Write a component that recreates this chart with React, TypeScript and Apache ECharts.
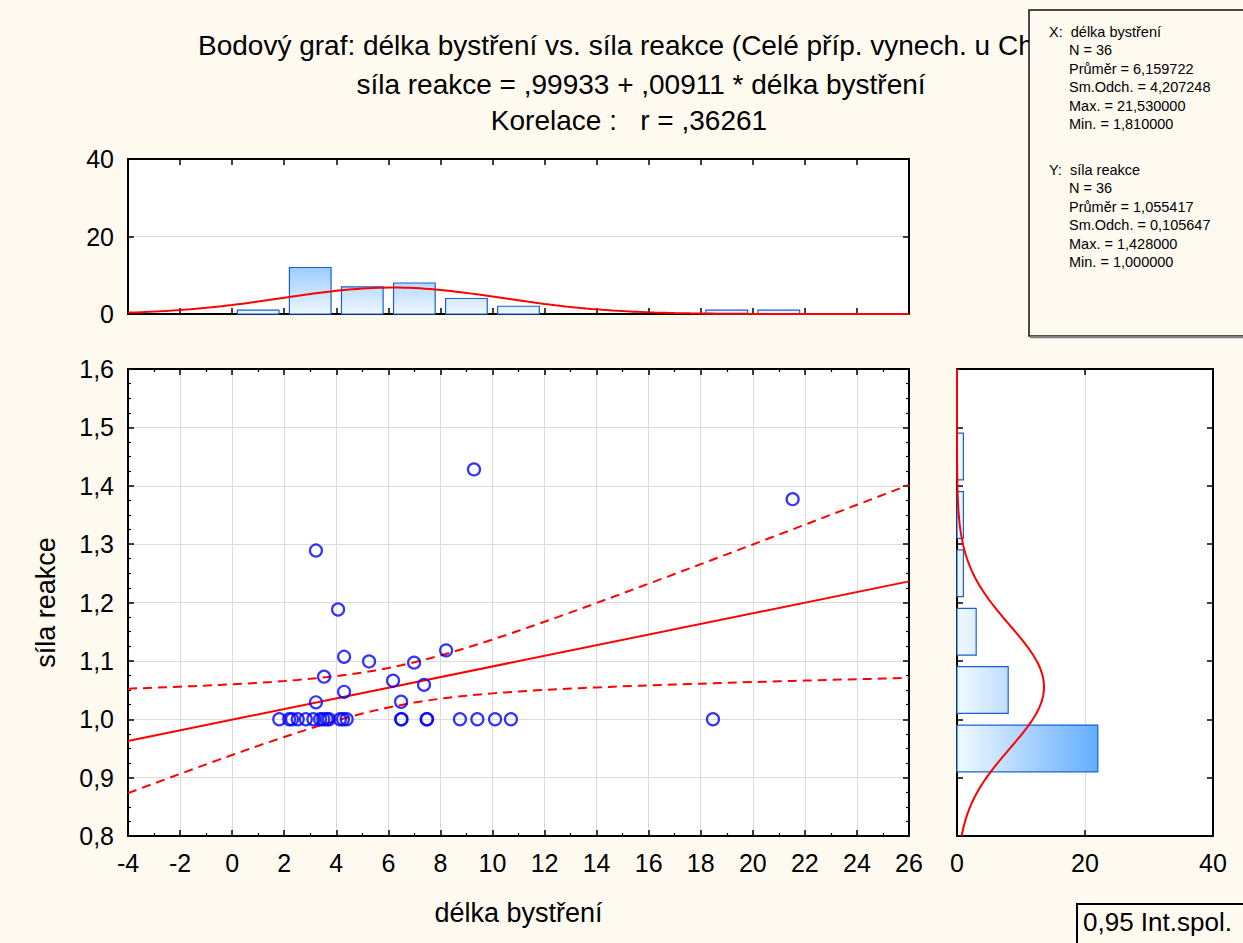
import React, { useEffect, useRef } from "react";
import * as echarts from "echarts";

// Observations: délka bystření (x) and síla reakce (y)
const pointX = [
  1.81, 2.19, 2.3, 2.52, 2.83, 3.12, 3.38, 3.5, 3.63, 3.72,
  4.14, 4.26, 4.4, 6.49, 6.51, 7.47, 7.49, 8.75, 9.42, 10.1, 10.71, 18.47,
  9.29, 21.53, 3.22, 4.07, 4.3, 5.26, 6.99, 8.22, 3.53, 6.18, 7.37, 4.3, 3.22, 6.49,
];
const pointY = [
  1.0, 1.0, 1.0, 1.0, 1.0, 1.0, 1.0, 1.0, 1.0, 1.0,
  1.0, 1.0, 1.0, 1.0, 1.0, 1.0, 1.0, 1.0, 1.0, 1.0, 1.0, 1.0,
  1.428, 1.377, 1.289, 1.188, 1.107, 1.099, 1.097, 1.118, 1.073, 1.066, 1.059, 1.047, 1.029, 1.03,
];

// Histogram of x (bin start, width 2)
const xBinStarts = [0, 2, 4, 6, 8, 10, 18, 20];
const xBinCounts = [1, 12, 7, 8, 4, 2, 1, 1];
const xBinWidth = 2;

// Histogram of y (bin start, width 0.1)
const yBinStarts = [0.9, 1.0, 1.1, 1.2, 1.3, 1.4];
const yBinCounts = [22, 8, 3, 1, 1, 1];
const yBinWidth = 0.1;

// Fit summary
const intercept = 0.99933;
const slope = 0.00911;
const corr = 0.36261;
const nObs = 36;
const xMean = 6.159722;
const xSd = 4.207248;
const yMean = 1.055417;
const ySd = 0.105647;
const tCrit = 2.0322; // t(0.975; 34)

// Axis ranges
const xMin = -4, xMax = 26, xStep = 2;
const yMin = 0.8, yMax = 1.6, yStep = 0.1;
const histMax = 40, histStep = 20;

const titleLines = [
  "Bodový graf: délka bystření vs. síla reakce (Celé příp. vynech. u ChD)",
  "síla reakce = ,99933 + ,00911 * délka bystření",
  "Korelace :   r = ,36261",
];
const statsX = [
  "X:  délka bystření",
  "N = 36",
  "Průměr = 6,159722",
  "Sm.Odch. = 4,207248",
  "Max. = 21,530000",
  "Min. = 1,810000",
];
const statsY = [
  "Y:  síla reakce",
  "N = 36",
  "Průměr = 1,055417",
  "Sm.Odch. = 0,105647",
  "Max. = 1,428000",
  "Min. = 1,000000",
];
const legendText = "0,95 Int.spol.";

const FONT = "'Liberation Sans', Arial, sans-serif";
const BG = "#fffaf0";

function normalPdf(v: number, m: number, s: number) {
  const z = (v - m) / s;
  return Math.exp(-0.5 * z * z) / (s * Math.sqrt(2 * Math.PI));
}

function buildOption() {
  const fitY = (x: number) => intercept + slope * x;
  const se = ySd * Math.sqrt(((1 - corr * corr) * (nObs - 1)) / (nObs - 2));
  const sxx = (nObs - 1) * xSd * xSd;
  const half = (x: number) => tCrit * se * Math.sqrt(1 / nObs + ((x - xMean) * (x - xMean)) / sxx);

  const bandXs: number[] = [];
  for (let x = xMin; x <= xMax + 1e-9; x += 0.5) bandXs.push(x);
  const upper = bandXs.map((x) => [x, fitY(x) + half(x)]);
  const lower = bandXs.map((x) => [x, fitY(x) - half(x)]);

  const xCurve: number[][] = [];
  for (let x = xMin; x <= xMax + 1e-9; x += 0.2)
    xCurve.push([x, nObs * xBinWidth * normalPdf(x, xMean, xSd)]);
  const yCurve: number[][] = [];
  for (let y = yMin; y <= yMax + 1e-9; y += 0.005)
    yCurve.push([nObs * yBinWidth * normalPdf(y, yMean, ySd), y]);

  const tickStyle = { show: true, inside: true, length: 6, lineStyle: { color: "#000", width: 1.5 } };
  const line = { show: true, onZero: false, lineStyle: { color: "#000", width: 2 } };
  const noLabel = { show: false };
  const label = (fmt?: (v: number) => string) => ({
    show: true,
    fontSize: 25,
    color: "#000",
    fontFamily: FONT,
    margin: 14,
    formatter: fmt,
  });
  const comma = (v: number) => v.toFixed(1).replace(".", ",");
  const grid = { show: true, backgroundColor: "#fff", borderWidth: 0 };
  const split = { show: true, lineStyle: { color: "#dcdcdc", width: 1 } };
  const minor = (n: number) => ({ show: true, splitNumber: n, length: 3, lineStyle: { color: "#000", width: 1.2 } });

  const xAxis: any[] = [
    // 0: scatter bottom
    {
      type: "value", gridIndex: 0, min: xMin, max: xMax, interval: xStep, position: "bottom",
      axisLine: line, axisTick: tickStyle, minorTick: minor(2),
      splitLine: split, axisLabel: label(),
      name: "délka bystření", nameLocation: "middle", nameGap: 63,
      nameTextStyle: { fontSize: 27, color: "#000", fontFamily: FONT },
    },
    // 1: scatter top
    {
      type: "value", gridIndex: 0, min: xMin, max: xMax, interval: xStep, position: "top",
      axisLine: line, axisTick: tickStyle, minorTick: minor(2),
      splitLine: { show: false }, axisLabel: noLabel,
    },
    // 2: x histogram bottom
    {
      type: "value", gridIndex: 1, min: xMin, max: xMax, interval: xStep, position: "bottom",
      axisLine: line, axisTick: tickStyle, splitLine: { show: false }, axisLabel: noLabel,
    },
    // 3: x histogram top
    {
      type: "value", gridIndex: 1, min: xMin, max: xMax, interval: xStep, position: "top",
      axisLine: line, axisTick: tickStyle, splitLine: { show: false }, axisLabel: noLabel,
    },
    // 4: y histogram bottom
    {
      type: "value", gridIndex: 2, min: 0, max: histMax, interval: histStep, position: "bottom",
      axisLine: line, axisTick: tickStyle, splitLine: split, axisLabel: label(),
    },
    // 5: y histogram top
    {
      type: "value", gridIndex: 2, min: 0, max: histMax, interval: histStep, position: "top",
      axisLine: line, axisTick: tickStyle, splitLine: { show: false }, axisLabel: noLabel,
    },
  ];

  const yAxis: any[] = [
    // 0: scatter left
    {
      type: "value", gridIndex: 0, min: yMin, max: yMax, interval: yStep, position: "left",
      axisLine: line, axisTick: tickStyle, minorTick: minor(4),
      splitLine: split, axisLabel: label(comma),
      name: "síla reakce", nameLocation: "middle", nameGap: 69,
      nameTextStyle: { fontSize: 27, color: "#000", fontFamily: FONT },
    },
    // 1: scatter right
    {
      type: "value", gridIndex: 0, min: yMin, max: yMax, interval: yStep, position: "right",
      axisLine: line, axisTick: tickStyle, minorTick: minor(4),
      splitLine: { show: false }, axisLabel: noLabel,
    },
    // 2: x histogram left
    {
      type: "value", gridIndex: 1, min: 0, max: histMax, interval: histStep, position: "left",
      axisLine: line, axisTick: tickStyle, splitLine: split, axisLabel: label(),
    },
    // 3: x histogram right
    {
      type: "value", gridIndex: 1, min: 0, max: histMax, interval: histStep, position: "right",
      axisLine: line, axisTick: tickStyle, splitLine: { show: false }, axisLabel: noLabel,
    },
    // 4: y histogram left
    {
      type: "value", gridIndex: 2, min: yMin, max: yMax, interval: yStep, position: "left",
      axisLine: line, axisTick: tickStyle, splitLine: { show: false }, axisLabel: noLabel,
    },
    // 5: y histogram right
    {
      type: "value", gridIndex: 2, min: yMin, max: yMax, interval: yStep, position: "right",
      axisLine: line, axisTick: tickStyle, splitLine: { show: false }, axisLabel: noLabel,
    },
  ];

  const barStroke = "#1a5fd6";

  const xHistSeries = {
    type: "custom",
    xAxisIndex: 2,
    yAxisIndex: 2,
    z: 2,
    encode: { x: [0, 1], y: 2 },
    data: xBinStarts.map((b, i) => [b, b + xBinWidth, xBinCounts[i]]),
    renderItem: (_p: any, api: any) => {
      const a = api.coord([api.value(0), api.value(2)]);
      const b = api.coord([api.value(1), 0]);
      const w = b[0] - a[0];
      const inset = w * 0.1;
      const base = api.coord([0, 0])[1];
      const top = api.coord([0, 12])[1];
      return {
        type: "rect",
        shape: { x: a[0] + inset, y: a[1], width: w - 2 * inset, height: b[1] - a[1] },
        style: {
          fill: new echarts.graphic.LinearGradient(0, base, 0, top, [
            { offset: 0, color: "#eef7ff" },
            { offset: 1, color: "#9ccdff" },
          ], true),
          stroke: barStroke,
          lineWidth: 1.2,
        },
      };
    },
  };

  const yHistSeries = {
    type: "custom",
    xAxisIndex: 4,
    yAxisIndex: 4,
    z: 2,
    encode: { x: 2, y: [0, 1] },
    data: yBinStarts.map((b, i) => [b, b + yBinWidth, yBinCounts[i]]),
    renderItem: (_p: any, api: any) => {
      const a = api.coord([0, api.value(1)]);
      const b = api.coord([api.value(2), api.value(0)]);
      const h = b[1] - a[1];
      const inset = h * 0.1;
      const left = api.coord([0, 1])[0];
      const right = api.coord([22, 1])[0];
      return {
        type: "rect",
        shape: { x: a[0], y: a[1] + inset, width: b[0] - a[0], height: h - 2 * inset },
        style: {
          fill: new echarts.graphic.LinearGradient(left, 0, right, 0, [
            { offset: 0, color: "#f2f9ff" },
            { offset: 1, color: "#63aefc" },
          ], true),
          stroke: barStroke,
          lineWidth: 1.2,
        },
      };
    },
  };

  const redLine = (data: number[][], xi: number, yi: number, dashed = false) => ({
    type: "line",
    xAxisIndex: xi,
    yAxisIndex: yi,
    data,
    showSymbol: false,
    symbol: "none",
    silent: true,
    z: 3,
    lineStyle: { color: "#ff0000", width: 2, type: dashed ? [9, 6] : "solid" },
  });

  const textLines = (lines: string[], x0: number, y0: number, indent: number) =>
    lines.map((t, i) => ({
      type: "text",
      x: i === 0 ? x0 : x0 + indent,
      y: y0 + i * 18.4,
      z: 11,
      style: {
        text: t, fontSize: 14.5, fontFamily: FONT, fill: "#000",
        textAlign: "left", textVerticalAlign: "middle", align: "left", verticalAlign: "middle",
      },
    }));

  const titleText = (t: string, x: number, y: number, align: string) => ({
    type: "text",
    x,
    y,
    style: {
      text: t, fontSize: 28, fontFamily: FONT, fill: "#000",
      textAlign: align, textVerticalAlign: "middle", align, verticalAlign: "middle",
    },
  });

  return {
    animation: false,
    backgroundColor: BG,
    grid: [
      { ...grid, left: 128, top: 369, width: 781, height: 467 },
      { ...grid, left: 128, top: 159, width: 781, height: 155 },
      { ...grid, left: 957, top: 369, width: 256, height: 467 },
    ],
    xAxis,
    yAxis,
    series: [
      xHistSeries,
      redLine(xCurve, 2, 2),
      yHistSeries,
      redLine(yCurve, 4, 4),
      redLine([[xMin, fitY(xMin)], [xMax, fitY(xMax)]], 0, 0),
      redLine(upper, 0, 0, true),
      redLine(lower, 0, 0, true),
      {
        type: "scatter",
        xAxisIndex: 0,
        yAxisIndex: 0,
        z: 4,
        symbol: "circle",
        symbolSize: 12,
        data: pointX.map((x, i) => [x, pointY[i]]),
        itemStyle: { color: "rgba(0,0,0,0)", borderColor: "#0000ff", borderWidth: 2.2 },
      },
    ],
    graphic: [
      titleText(titleLines[0], 198, 45, "left"),
      titleText(titleLines[1], 641, 84, "center"),
      titleText(titleLines[2], 629, 120, "center"),
      {
        type: "rect",
        shape: { x: 1029, y: 10, width: 240, height: 326 },
        style: { fill: BG, stroke: "#111", lineWidth: 1.5 },
        z: 10,
      },
      {
        type: "line",
        shape: { x1: 1030, y1: 337, x2: 1243, y2: 337 },
        style: { stroke: "#808080", lineWidth: 2.5 },
        z: 10,
      },
      ...textLines(statsX, 1049, 32, 20),
      ...textLines(statsY, 1049, 170, 20),
      {
        type: "rect",
        shape: { x: 1077, y: 904, width: 180, height: 50 },
        style: { fill: BG, stroke: "#000", lineWidth: 2 },
        z: 10,
      },
      {
        type: "text",
        x: 1083,
        y: 922,
        z: 11,
        style: {
          text: legendText, fontSize: 26, fontFamily: FONT, fill: "#000",
          textAlign: "left", textVerticalAlign: "middle", align: "left", verticalAlign: "middle",
        },
      },
    ],
  };
}

export default function App() {
  const ref = useRef<HTMLDivElement>(null);
  useEffect(() => {
    if (!ref.current) return;
    const chart = echarts.init(ref.current, undefined, { renderer: "svg" });
    chart.setOption(buildOption() as any);
    return () => chart.dispose();
  }, []);
  return (
    <div
      ref={ref}
      style={{ position: "absolute", left: 0, top: 0, width: 1243, height: 943 }}
    />
  );
}
